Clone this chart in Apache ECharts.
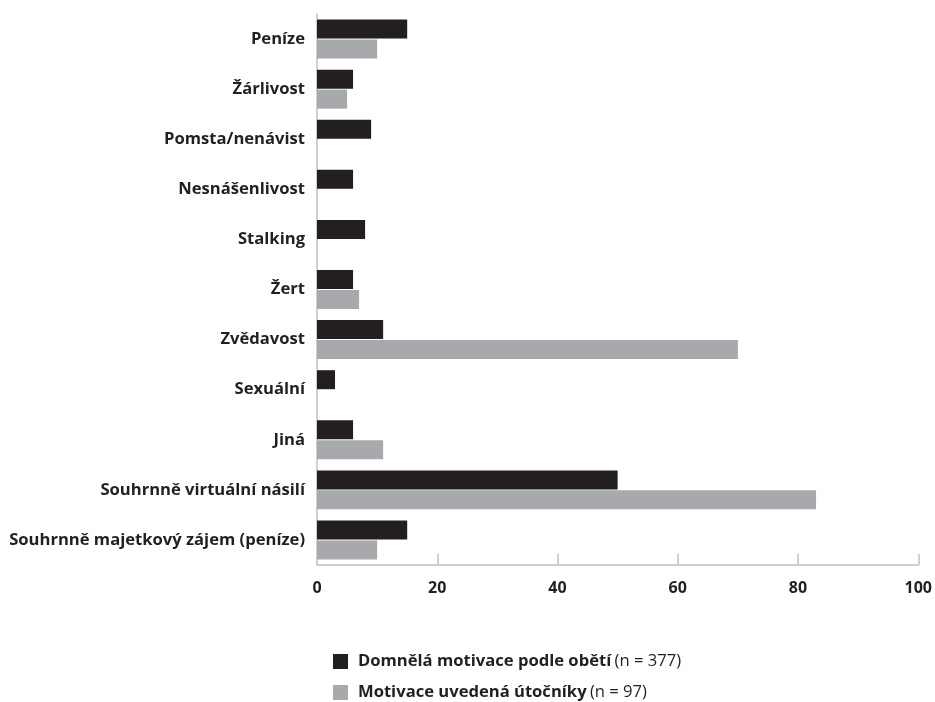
<!DOCTYPE html>
<html>
<head>
<meta charset="utf-8">
<script src="https://cdn.jsdelivr.net/npm/echarts@6/dist/echarts.min.js"></script>
<style>
  html, body { margin: 0; padding: 0; background: #ffffff; }
  #chart { width: 935px; height: 702px; }
</style>
</head>
<body>
<div id="chart"></div>
<script>
// Motive categories, top to bottom
const categories = [
  'Peníze',
  'Žárlivost',
  'Pomsta/nenávist',
  'Nesnášenlivost',
  'Stalking',
  'Žert',
  'Zvědavost',
  'Sexuální',
  'Jiná',
  'Souhrnně virtuální násilí',
  'Souhrnně majetkový zájem (peníze)'
];

// Percentages per category
const victimsValues = [15, 6, 9, 6, 8, 6, 11, 3, 6, 50, 15];
const attackersValues = [10, 5, 0, 0, 0, 7, 70, 0, 11, 83, 10];

const seriesNames = ['Domnělá motivace podle obětí', 'Motivace uvedená útočníky'];
const seriesCounts = ['(n = 377)', '(n = 97)'];

const xTicks = [0, 20, 40, 60, 80, 100];

const FONT = '"Open Sans", sans-serif';
const INK = '#231f20';

const legendText = {
  rich: {
    b: { fontFamily: FONT, fontWeight: 'bold', fontSize: 16.6, color: INK, padding: [0, 0, 0, 5] },
    n: { fontFamily: FONT, fontSize: 16.6, color: INK }
  }
};
function legendFormatter(name) {
  const i = seriesNames.indexOf(name);
  return '{b|' + name + '} {n|' + seriesCounts[i] + '}';
}

const chart = echarts.init(document.getElementById('chart'));

chart.setOption({
  animation: false,
  grid: { left: 317, right: 16, top: 14, bottom: 137, containLabel: false },
  xAxis: {
    type: 'value',
    min: xTicks[0],
    max: xTicks[xTicks.length - 1],
    interval: 20,
    axisLine: { show: true, lineStyle: { color: '#cfd0d2', width: 2 } },
    axisTick: { show: true, inside: true, length: 11, lineStyle: { color: '#cfd0d2', width: 2 } },
    splitLine: { show: false },
    axisLabel: {
      margin: 15,
      color: INK,
      fontFamily: FONT,
      fontWeight: 'bold',
      fontSize: 16
    }
  },
  yAxis: {
    type: 'category',
    data: categories,
    inverse: true,
    axisLine: { show: true, lineStyle: { color: '#cfd0d2', width: 2 } },
    axisTick: { show: false },
    axisLabel: {
      margin: 12,
      color: INK,
      fontFamily: FONT,
      fontWeight: 'bold',
      fontSize: 16.6
    }
  },
  legend: [
    {
      left: 328,
      top: 648,
      itemWidth: 15,
      itemHeight: 15,
      icon: 'rect',
      data: [seriesNames[0]],
      formatter: legendFormatter,
      textStyle: legendText
    },
    {
      left: 328,
      top: 679,
      itemWidth: 15,
      itemHeight: 15,
      icon: 'rect',
      data: [seriesNames[1]],
      formatter: legendFormatter,
      textStyle: legendText
    }
  ],
  series: [
    {
      name: seriesNames[0],
      type: 'bar',
      data: victimsValues,
      barWidth: 19,
      barGap: '5%',
      itemStyle: { color: INK }
    },
    {
      name: seriesNames[1],
      type: 'bar',
      data: attackersValues,
      barWidth: 19,
      barGap: '5%',
      itemStyle: { color: '#a7a9ac' }
    }
  ]
});
</script>
</body>
</html>
